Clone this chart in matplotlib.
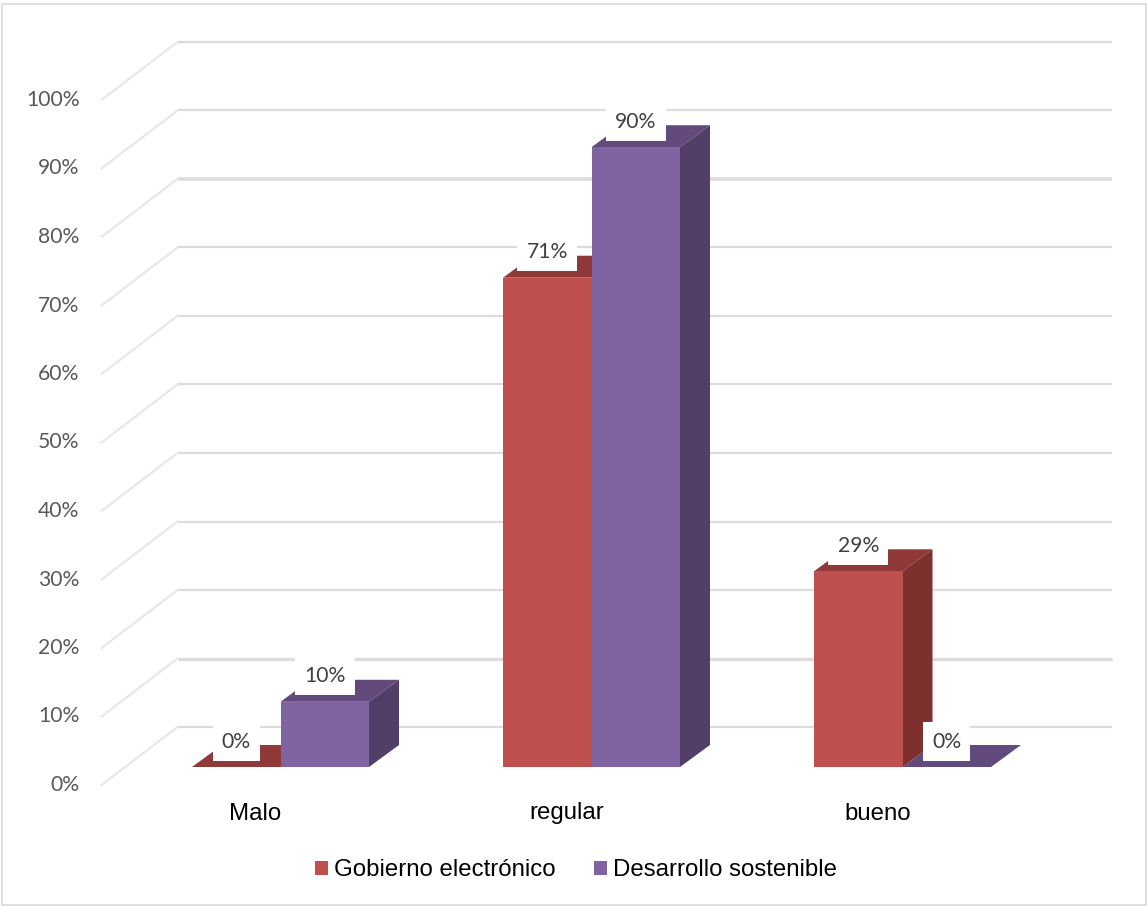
import matplotlib
matplotlib.use("Agg")
import matplotlib.pyplot as plt
from matplotlib.patches import Patch, Rectangle

categories = ["Malo", "regular", "bueno"]
gobierno = [0.0, 71.43, 28.57]
desarrollo = [9.52, 90.48, 0.0]
ticks = [0, 10, 20, 30, 40, 50, 60, 70, 80, 90, 100]
grid_widths = [1.6, 2.4, 1.6, 1.6, 1.6, 1.6, 1.6, 1.6, 2.6, 1.6, 1.6]

RED = ("#c0504d", "#7d302e", "#8f3a38")      # front, side, top
PURPLE = ("#8064a2", "#523f68", "#624a7c")

W, H = 1148, 906
PX_X = 311.0   # pixels per category
PX_Y = 6.85    # pixels per percent
bar_w = 88.5 / PX_X
dx, dy = 30 / PX_X, 22 / PX_Y                 # depth of a bar
front_x, front_y = -179 / PX_X, -18 / PX_Y    # front of the floor
back_x, back_y = -103 / PX_X, 40 / PX_Y       # back wall
right_x = 831 / PX_X

fig = plt.figure(figsize=(W / 100, H / 100), dpi=100, facecolor="white")
ax = fig.add_axes([0, 0, 1, 1])
ax.set_xlim(-280.5 / PX_X, (W - 280.5) / PX_X)
ax.set_ylim(-(H - 767) / PX_Y, 767 / PX_Y)
ax.axis("off")

fig.add_artist(Rectangle((2 / W, 1.5 / H), (W - 4) / W, (H - 5) / H, transform=fig.transFigure,
                         fill=False, edgecolor="#d9d9d9", linewidth=1.2))

# walls
for t, lw in zip(ticks, grid_widths):
  ax.plot([back_x, right_x], [t + back_y, t + back_y], color="#dcdcdc", lw=lw, zorder=1, solid_capstyle="butt")
  ax.plot([front_x, back_x], [t + front_y, t + back_y], color="#e8e8e8", lw=1.6, zorder=1)
  ax.text(front_x - 22 / PX_X, t + front_y, str(t) + "%", ha="right", va="center",
          family="Lato", fontsize=15.2, color="#595959")

def box(x, v, colors, z_back, z_front):
  # top and side faces come from the value, the front is a plain bar
  ax.fill([x, x + bar_w, x + bar_w + dx, x + dx], [v, v, v + dy, v + dy], color=colors[2], lw=0, zorder=z_back)
  ax.fill([x + bar_w, x + bar_w + dx, x + bar_w + dx, x + bar_w], [0, dy, v + dy, v], color=colors[1], lw=0, zorder=z_back)
  ax.bar(x, v, width=bar_w, align="edge", color=colors[0], lw=0, zorder=z_front)

for i in range(len(categories)):
  box(i - bar_w, gobierno[i], RED, 4, 4)
  box(i, desarrollo[i], PURPLE, 3, 5)
  ax.text(i - 25 / PX_X, -52.5 / PX_Y, categories[i], ha="center", va="baseline",
          family="Liberation Sans", fontsize=17.3, color="black", zorder=7)
  for x, v in [(i - bar_w / 2, gobierno[i]), (i + bar_w / 2, desarrollo[i])]:
    ax.annotate(f"{v:.0f}%", xy=(x, v), xytext=(0, 25.5 * 0.72), textcoords="offset points",
                ha="center", va="center", family="Lato", fontsize=15.2, color="#404040", zorder=8,
                bbox=dict(facecolor="white", edgecolor="none", pad=6.5))

handles = [Patch(color=RED[0], lw=0), Patch(color=PURPLE[0], lw=0)]
ax.legend(handles, ["Gobierno electrónico", "Desarrollo sostenible"], ncol=2, loc="center",
          bbox_to_anchor=(576 / W, 1 - 870.5 / H), frameon=False,
          prop={"family": "Liberation Sans", "size": 17.3}, handlelength=0.54, handleheight=0.54,
          handletextpad=0.25, columnspacing=1.62, labelcolor="black")

fig.savefig("out.png", dpi=100)
